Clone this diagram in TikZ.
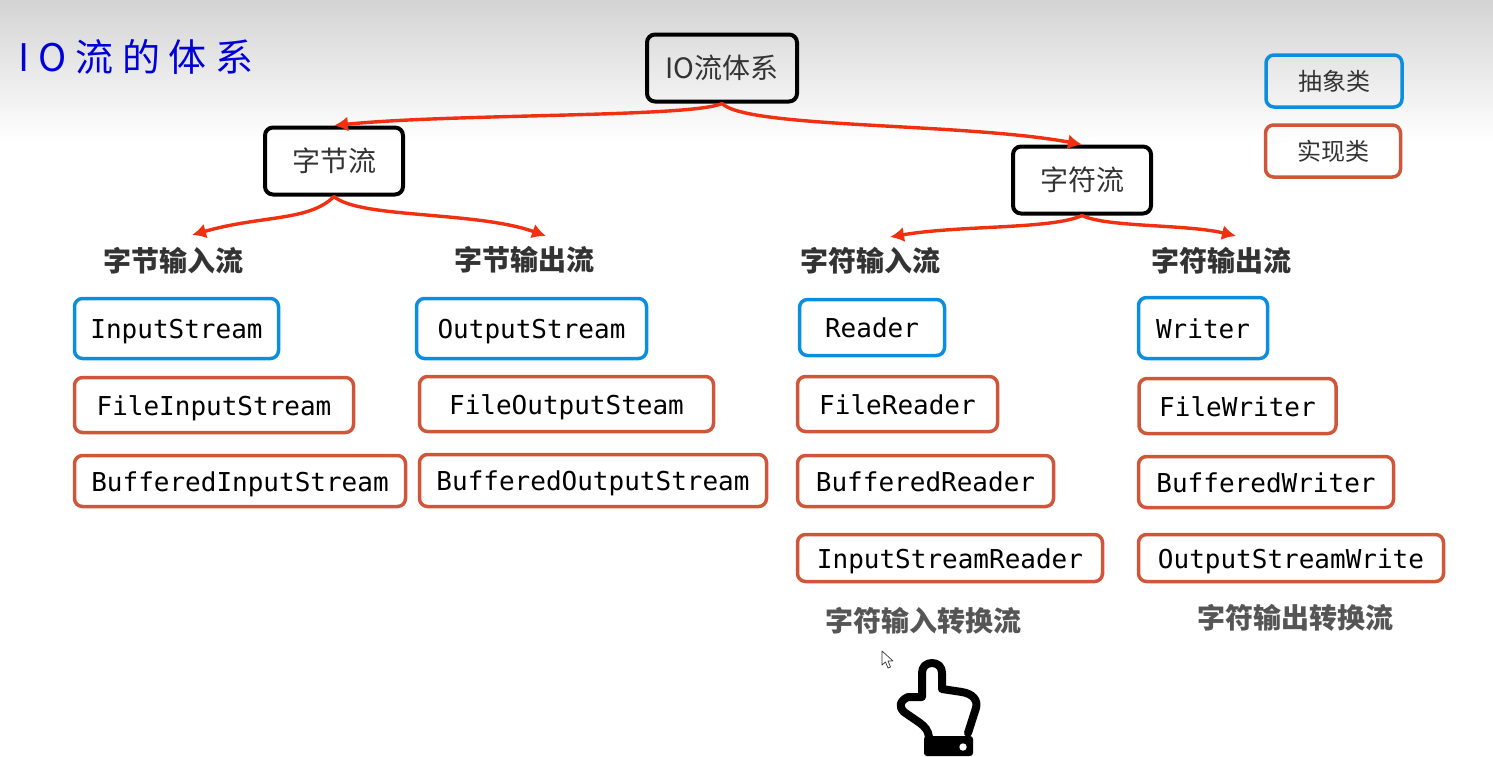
\documentclass[tikz,border=0pt]{standalone}
\usepackage{fontspec}
\setmainfont{Noto Sans CJK SC}
\setmonofont{DejaVu Sans Mono}
\definecolor{absblue}{HTML}{0A8FE0}
\definecolor{implred}{HTML}{CF5638}
\definecolor{arrowred}{HTML}{F03010}
\definecolor{labelgray}{HTML}{333333}
\definecolor{notegray}{HTML}{555555}
\tikzset{
	box/.style={rounded corners=8pt,inner sep=0pt,line width=3.5pt},
	rootbox/.style={box,draw=black,line width=4pt,font=\fontsize{28}{30}\selectfont,text=labelgray},
	absbox/.style={box,draw=absblue},
	implbox/.style={box,draw=implred},
	classtext/.style={text height=24pt,text depth=4pt,font=\ttfamily\fontsize{26}{30}\selectfont},
	keytext/.style={font=\fontsize{24}{28}\selectfont,text=labelgray},
	grouplabel/.style={inner sep=0pt,font=\bfseries\fontsize{28}{30}\selectfont,text=labelgray},
	notelabel/.style={inner sep=0pt,font=\bfseries\fontsize{28}{30}\selectfont,text=notegray},
	flow/.style={-{Latex[length=14pt,width=15pt]},draw=arrowred,line width=3.4pt},
}
\usetikzlibrary{arrows.meta}
\begin{document}
\begin{tikzpicture}[x=1pt,y=-1pt,line join=round,line cap=round]
	\useasboundingbox (0,0) rectangle (1493,756);
	\shade[top color=black!17,bottom color=white] (0,0) rectangle (1493,142);
	% title
	\node[inner sep=0pt,text=blue!85!black,font=\addfontfeature{LetterSpace=23}\fontsize{38}{40}\selectfont] (title) at (136,57) {IO流的体系};
	% top of the tree
	\node[rootbox,minimum width=150pt,minimum height=67pt] (root) at (722,68) {IO流体系};
	\node[rootbox,minimum width=138pt,minimum height=67pt] (bytes) at (334,161) {字节流};
	\node[rootbox,minimum width=138pt,minimum height=67pt] (chars) at (1082,180) {字符流};
	% key
	\node[absbox,keytext,minimum width=136pt,minimum height=52pt] (keyabs) at (1334,81) {抽象类};
	\node[implbox,keytext,minimum width=135pt,minimum height=52pt] (keyimpl) at (1333,151) {实现类};
	% group labels
	\node[grouplabel] (bytesin) at (173,261) {字节输入流};
	\node[grouplabel] (bytesout) at (524,260) {字节输出流};
	\node[grouplabel] (charsin) at (870,261) {字符输入流};
	\node[grouplabel] (charsout) at (1221,261) {字符输出流};
	\node[notelabel] (convin) at (923,621) {字符输入转换流};
	\node[notelabel] (convout) at (1295,618) {字符输出转换流};
	% classes
	\foreach \n/\x/\y/\w/\h/\t in {
		instream/176.5/328.5/204/60/InputStream,
		outstream/531.5/328.5/230/60/OutputStream,
		reader/872/327.5/145/56/Reader,
		writer/1203/328/129/61/Writer}{
		\node[absbox,classtext,minimum width=\w pt,minimum height=\h pt] (\n) at (\x,\y) {\t};
	}
	\foreach \n/\x/\y/\w/\h/\t in {
		fileinstream/214/405/279/55/FileInputStream,
		bufinstream/240/481/331/51/BufferedInputStream,
		fileoutstream/566.5/404/294/55/FileOutputSteam,
		bufoutstream/593/480.5/347/52/BufferedOutputStream,
		filereader/897.5/404/200/55/FileReader,
		bufreader/925.5/481/256/51/BufferedReader,
		instreamreader/950/558/305/47/InputStreamReader,
		filewriter/1237.5/406/197/55/FileWriter,
		bufwriter/1266/482/255/51/BufferedWriter,
		outstreamwrite/1291/558/305/47/OutputStreamWrite}{
		\node[implbox,classtext,minimum width=\w pt,minimum height=\h pt] (\n) at (\x,\y) {\t};
	}
	% free ends of the arrows
	\coordinate (bytesintip) at (192,235);
	\coordinate (bytesouttip) at (546,236);
	\coordinate (charsintip) at (890,237);
	\coordinate (charsouttip) at (1236,236);
	\draw[flow] (root.south) .. controls +(-30,14) and +(120,-12) .. (bytes.north);
	\draw[flow] (root.south) .. controls +(25,25) and +(-120,-22) .. (chars.north);
	\draw[flow] (bytes.south) .. controls +(-25,25) and +(70,-20) .. (bytesintip);
	\draw[flow] (bytes.south) .. controls +(25,22) and +(-70,-25) .. (bytesouttip);
	\draw[flow] (chars.south) .. controls +(-30,14) and +(70,-12) .. (charsintip);
	\draw[flow] (chars.south) .. controls +(25,12) and +(-50,-12) .. (charsouttip);
	% hand and mouse pointer
	\draw[line width=8pt]
	(929,737)..controls (928,730) and (925,727) .. (920,723)--(904,712)..controls (899,708) and (899,701) .. (908,697)--(922,697)
	--(922,673)..controls (922,667) and (926,663) .. (932,663)..controls (938,663) and (942,667) .. (942,673)
	--(942,689)--(962,692)..controls (973,694) and (978,700) .. (976,708)--(968,733);
	\fill[rounded corners=3pt] (924,736) rectangle (973,756);
	\fill[white] (963,747) circle (3.7);
	\draw[fill=white,draw=black!80,line width=0.7pt] (882,651)--(882,665)--(885.5,662)--(888,668)--(890.5,667)--(888,661)--(893,661)--cycle;
\end{tikzpicture}
\end{document}
